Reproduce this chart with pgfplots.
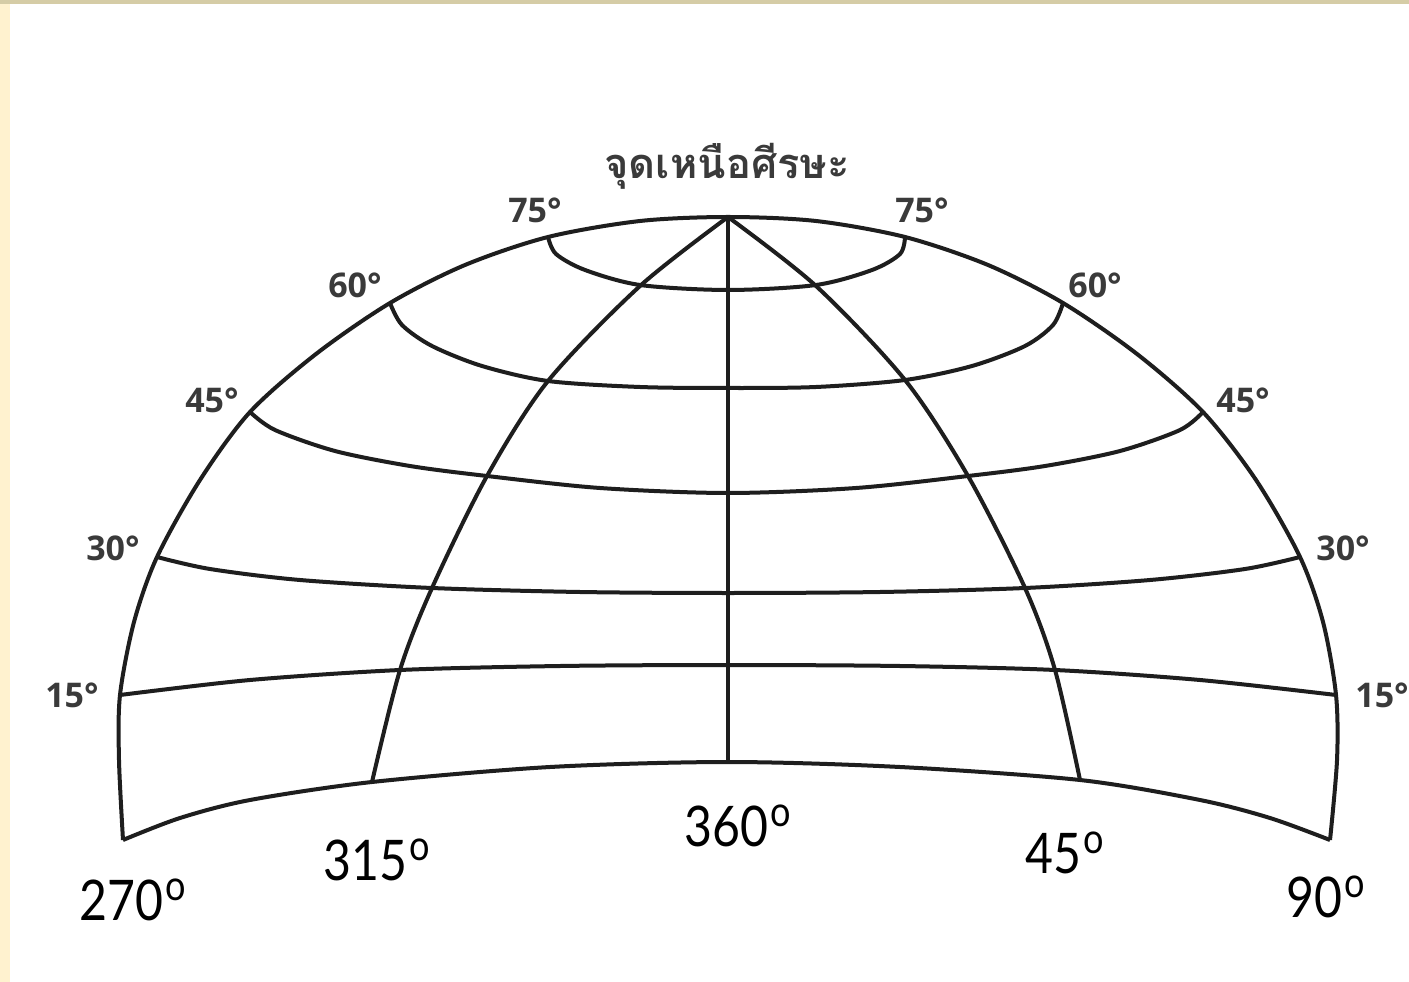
\documentclass[border=0pt]{standalone}
\usepackage{pgfplots}
\pgfplotsset{compat=1.18}
\usepackage{fontspec}
\setmainfont{Open Sans}
\newfontfamily\thaifont[Script=Thai]{Loma}
\newfontfamily\azfont[FakeStretch=0.86]{Lato}
\definecolor{cream}{HTML}{FFF2CF}
\definecolor{tanline}{HTML}{D5CCA6}
\definecolor{ink}{HTML}{1E1E1E}
\definecolor{lab}{HTML}{3A3A3A}
\newcommand{\az}[1]{#1\hspace{0.04em}\raisebox{0.36em}{\fontsize{10.5}{10.5}\selectfont o}}
\begin{document}
\begin{tikzpicture}
\useasboundingbox (0,0) rectangle (352.25pt,245.5pt);
\clip (0,0) rectangle (352.25pt,245.5pt);
\begin{axis}[at={(0,0)}, anchor=south west, scale only axis,
  width=352.25pt, height=245.5pt,
  xmin=0, xmax=1409, ymin=0, ymax=982, y dir=reverse,
  hide axis, clip=false]
% background
\addplot[fill=white, draw=none] coordinates {(0,0)(1409,0)(1409,982)(0,982)} -- cycle;
\addplot[fill=cream, draw=none] coordinates {(0,0)(10,0)(10,982)(0,982)} -- cycle;
\addplot[fill=tanline, draw=none] coordinates {(0,0)(1409,0)(1409,4)(0,4)} -- cycle;
% outer boundary
\addplot[ink, line width=1pt, smooth] coordinates {
 (123,840)(119,760)(120,695)(134,622)(157,557)(200,480)(250,412)(316,354)(390,303)(465,265)(548,237)(640,221)(728,217)
 (816,221)(905,237)(988,265)(1063,303)(1137,354)(1203,412)(1256,480)(1300,557)(1323,622)(1336,695)(1337,760)(1330,840)};
% horizon
\addplot[ink, line width=1pt, smooth] coordinates {
 (123,840)(180,818)(250,800)(372,782)(550,767)(728,762)(900,767)(1080,780)(1200,800)(1270,818)(1330,840)};
% altitude 15
\addplot[ink, line width=1pt, smooth] coordinates {
 (120,695)(250,680)(400,670)(560,666)(728,665)(900,666)(1055,670)(1200,680)(1336,695)};
% altitude 30
\addplot[ink, line width=1pt, smooth] coordinates {
 (157,557)(210,569)(300,580)(432,588)(580,592)(728,593)(880,592)(1025,588)(1150,580)(1245,569)(1300,557)};
% altitude 45
\addplot[ink, line width=1pt, smooth] coordinates {
 (250,412)(275,430)(335,451)(410,466)(487,476)(600,488)(728,493)(856,488)(968,476)(1045,466)(1120,451)(1180,430)(1203,412)};
% altitude 60
\addplot[ink, line width=1pt, smooth] coordinates {
 (390,303)(402,325)(432,346)(482,366)(548,381)(640,387)(728,388)(816,387)(905,380)(972,366)(1025,346)(1053,325)(1063,303)};
% altitude 75
\addplot[ink, line width=1pt, smooth] coordinates {
 (548,237)(556,254)(585,270)(640,285)(728,290)(816,285)(872,270)(900,254)(905,237)};
% meridians
\addplot[ink, line width=1pt, smooth] coordinates {
 (728,217)(640,286)(548,381)(487,476)(432,588)(400,670)(372,782)};
\addplot[ink, line width=1pt, smooth] coordinates {
 (728,217)(816,286)(905,380)(968,476)(1025,588)(1055,670)(1080,780)};
\addplot[ink, line width=1pt] coordinates {(728,217)(728,762)};
% labels
\begin{scope}[every node/.style={font=\bfseries\fontsize{8.5}{10}\selectfont, text=lab, inner sep=0pt}]
\node at (axis cs:535,210) {75°};
\node at (axis cs:922,210) {75°};
\node at (axis cs:355,285) {60°};
\node at (axis cs:1095,285) {60°};
\node at (axis cs:212,400) {45°};
\node at (axis cs:1243,400) {45°};
\node at (axis cs:113,548) {30°};
\node at (axis cs:1343,548) {30°};
\node at (axis cs:72,695) {15°};
\node at (axis cs:1382,695) {15°};
\end{scope}
\node[font=\thaifont\bfseries\fontsize{10.4}{12}\selectfont, text=lab, inner sep=0pt] at (axis cs:727,166) {จุดเหนือศีรษะ};
\begin{scope}[every node/.style={font=\azfont\fontsize{14}{16}\selectfont, text=black, inner sep=0pt}]
\node at (axis cs:133,900) {\az{270}};
\node at (axis cs:377,860) {\az{315}};
\node at (axis cs:738,826) {\az{360}};
\node at (axis cs:1065,853) {\az{45}};
\node at (axis cs:1326,897) {\az{90}};
\end{scope}
\end{axis}
\end{tikzpicture}
\end{document}
